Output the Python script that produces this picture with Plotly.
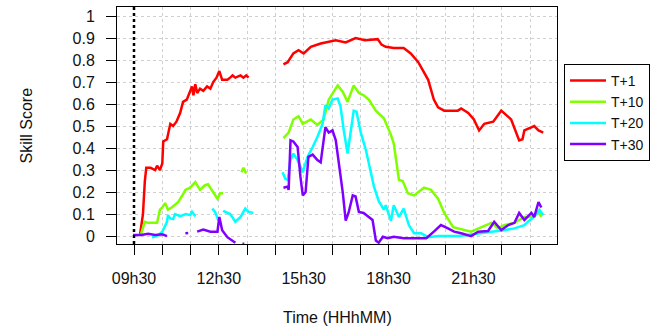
import plotly.graph_objects as go

# ---------------- data ----------------
series_names = ["T+1", "T+10", "T+20", "T+30"]
series_colors = ["#FF0000", "#80FF00", "#00FFFF", "#8000FF"]

t1_times = ["09:43", "09:49", "09:53", "09:56", "10:05", "10:15", "10:19", "10:25", "10:30", "10:32",
            "10:40", "10:47", "10:53", "11:00", "11:08", "11:14", "11:22", "11:29", "11:33", "11:36",
            "11:40", "11:44", "11:50", "11:57", "12:05", "12:12", "12:18", "12:25", "12:31", "12:37",
            "12:48", "12:54", "12:59", "13:05", "13:16", "13:22", "13:28", "13:33", None,
            "14:47", "14:56", "15:08", "15:19", "15:30", "15:45", "16:06", "16:38", "16:59", "17:20",
            "17:40", "18:07", "18:15", "18:24", "18:41", "19:02", "19:17", "19:33", "19:54", "20:06",
            "20:15", "20:28", "20:57", "21:04", "21:19", "21:31", "21:42", "21:53", "22:12", "22:29",
            "22:50", "23:07", "23:14", "23:18", "23:39", "23:44", "23:48", "23:58"]
t1_vals = [0.01, 0.10, 0.25, 0.31, 0.31, 0.30, 0.32, 0.30, 0.33, 0.43,
           0.44, 0.51, 0.50, 0.52, 0.56, 0.61, 0.62, 0.66, 0.68, 0.64,
           0.69, 0.65, 0.67, 0.66, 0.68, 0.67, 0.70, 0.72, 0.75, 0.71,
           0.71, 0.72, 0.73, 0.72, 0.73, 0.72, 0.73, 0.72, None,
           0.78, 0.79, 0.83, 0.845, 0.83, 0.86, 0.875, 0.89, 0.88, 0.90,
           0.89, 0.895, 0.87, 0.86, 0.855, 0.855, 0.83, 0.79, 0.71, 0.62,
           0.585, 0.57, 0.57, 0.58, 0.56, 0.53, 0.48, 0.51, 0.52, 0.57,
           0.53, 0.435, 0.44, 0.48, 0.50, 0.49, 0.48, 0.47]

t10_times = ["09:45", "09:53", "10:00", "10:19", "10:25", "10:30", "10:36", "10:42", "10:50", "11:04",
             "11:14", "11:19", "11:29", "11:40", "11:50", "12:00", "12:07", "12:18", "12:27", "12:33",
             "12:39", None, "13:18", "13:22", "13:28", None,
             "14:47", "14:58", "15:08", "15:19", "15:28", "15:45", "15:59", "16:12", "16:23", "16:33",
             "16:42", "16:53", "17:03", "17:16", "17:27", "17:37", "17:48", "18:03", "18:20", "18:35",
             "18:41", "18:52", "19:00", "19:11", "19:24", "19:45", "20:00", "20:15", "20:28", "20:47",
             "21:08", "21:25", "21:46", "22:08", "22:22", "22:35", "22:57", "23:18", "23:33", "23:48",
             "23:54"]
t10_vals = [0.01, 0.065, 0.06, 0.06, 0.12, 0.13, 0.15, 0.12, 0.13, 0.155,
            0.19, 0.21, 0.22, 0.245, 0.21, 0.23, 0.235, 0.20, 0.17, 0.195,
            0.195, None, 0.29, 0.31, 0.285, None,
            0.445, 0.47, 0.53, 0.545, 0.51, 0.53, 0.505, 0.53, 0.62, 0.655,
            0.685, 0.655, 0.61, 0.685, 0.65, 0.64, 0.62, 0.57, 0.535, 0.46,
            0.42, 0.255, 0.25, 0.195, 0.185, 0.22, 0.21, 0.17, 0.105, 0.04,
            0.027, 0.02, 0.04, 0.06, 0.036, 0.05, 0.06, 0.087, 0.087, 0.11,
            0.087]

t20_times = ["10:08", "10:19", "10:30", "10:40", "10:42", "10:47", "10:53", "10:57", "11:08", "11:20",
             "11:29", "11:33", "11:40", None, "12:16", "12:22", "12:29", None,
             "12:39", "12:54", "13:05", "13:16", "13:26", "13:33", "13:43", None,
             "14:45", "14:51", "14:56", "15:02", "15:08", "15:17", "15:28", "15:38", "15:49", "15:59",
             "16:10", "16:16", "16:23", "16:31", "16:42", "16:48", "16:55", "17:03", "17:10", "17:16",
             "17:22", "17:31", "17:42", "17:52", "17:59", "18:09", "18:20", "18:24", "18:35", "18:41",
             "18:45", "18:52", "19:02", "19:13", "19:24", "19:39", "19:54", "20:15", "21:00", "21:40",
             "22:08", "22:35", "22:57", "23:18", "23:28", "23:39", "23:50", "23:58"]
t20_vals = [-0.005, 0.0, 0.02, 0.065, 0.095, 0.08, 0.077, 0.10, 0.09, 0.10,
            0.095, 0.11, 0.09, None, 0.125, 0.11, 0.07, None,
            0.115, 0.10, 0.065, 0.087, 0.125, 0.11, 0.105, None,
            0.29, 0.26, 0.255, 0.345, 0.375, 0.345, 0.29, 0.36, 0.405, 0.45,
            0.51, 0.595, 0.58, 0.62, 0.625, 0.59, 0.48, 0.375, 0.48, 0.57,
            0.565, 0.47, 0.39, 0.30, 0.225, 0.16, 0.12, 0.14, 0.07, 0.14,
            0.12, 0.087, 0.125, 0.05, 0.013, 0.013, -0.005, 0.0, 0.0, 0.013,
            0.02, 0.027, 0.035, 0.05, 0.07, 0.087, 0.12, 0.095]

t30_times = ["09:28", "09:45", "10:00", "10:15", "10:30", "10:40", None,
             "11:19", "11:25", None,
             "11:44", "11:57", "12:12", "12:27", "12:31", "12:37", "12:48", "12:59", "13:05", None,
             "13:20", "13:24", None,
             "14:47", "14:56", "14:58", "15:02", "15:08", "15:17", "15:23", "15:28", "15:34", "15:40",
             "15:49", "15:59", "16:06", "16:12", "16:16", "16:23", "16:31", "16:38", "16:44", "16:53",
             "16:59", "17:05", "17:14", "17:20", "17:27", "17:37", "17:48", "17:56", "18:03", "18:09",
             "18:18", "18:28", "18:41", "19:02", "19:33", "19:50", "20:06", "20:21", "20:36", "20:49",
             "21:04", "21:25", "21:40", "22:01", "22:14", "22:29", "22:44", "22:57", "23:07", "23:18",
             "23:33", "23:39", "23:48", "23:54"]
t30_vals = [0.005, 0.005, 0.01, 0.005, 0.008, 0.0, None,
            0.013, 0.014, None,
            0.02, 0.03, 0.02, 0.02, 0.087, 0.027, -0.005, -0.02, -0.03, None,
            -0.035, -0.035, None,
            0.22, 0.225, 0.21, 0.435, 0.43, 0.405, 0.27, 0.185, 0.20, 0.36,
            0.37, 0.345, 0.335, 0.42, 0.495, 0.47, 0.48, 0.435, 0.345, 0.195,
            0.07, 0.105, 0.185, 0.18, 0.11, 0.105, 0.087, 0.073, -0.02, -0.03,
            -0.003, -0.01, -0.003, -0.01, -0.01, -0.01, 0.02, 0.05, 0.035, 0.02,
            0.013, 0.0, 0.02, 0.023, 0.065, 0.027, 0.05, 0.06, 0.105, 0.073,
            0.105, 0.087, 0.155, 0.13]

x_tick_hours = [9.5 + i for i in range(15)]
x_tick_text = ["09h30", "", "", "12h30", "", "", "15h30", "", "", "18h30", "", "", "21h30", "", ""]
y_tick_vals = [round(0.1 * i, 1) for i in range(11)]
y_tick_text = ["0", "0.1", "0.2", "0.3", "0.4", "0.5", "0.6", "0.7", "0.8", "0.9", "1"]
start_marker_hour = 9.5


def to_hours(t):
    if t is None:
        return None
    h, m = t.split(":")
    return int(h) + int(m) / 60.0


all_times = [t1_times, t10_times, t20_times, t30_times]
all_vals = [t1_vals, t10_vals, t20_vals, t30_vals]

FONT = "Liberation Sans, Arial, sans-serif"
fig = go.Figure()
for name, color, ts, vs in zip(series_names, series_colors, all_times, all_vals):
    fig.add_trace(go.Scatter(
        x=[to_hours(t) for t in ts], y=vs, mode="lines", name=name,
        line=dict(color=color, width=2.5), connectgaps=False,
    ))

fig.add_vline(x=start_marker_hour, line=dict(color="black", width=2.5, dash="dot"))

axis_common = dict(
    showline=True, linecolor="black", linewidth=1, mirror=True,
    ticks="outside", ticklen=10, tickcolor="black", tickwidth=1,
    showgrid=True, gridcolor="#cfcfcf", griddash="dot", gridwidth=1,
    zeroline=False, tickfont=dict(family=FONT, size=16, color="#111111"),
)
fig.update_xaxes(range=[8.899, 24.454], tickmode="array", tickvals=x_tick_hours,
                 ticktext=x_tick_text, ticklabelstandoff=10, **axis_common)
fig.update_yaxes(range=[-0.036, 1.041], tickmode="array", tickvals=y_tick_vals,
                 ticktext=y_tick_text, ticklabelstandoff=8, **axis_common)

fig.add_annotation(text="Skill Score", xref="paper", yref="paper", x=-0.2068, y=0.5,
                   textangle=-90, showarrow=False, xanchor="center", yanchor="middle",
                   font=dict(family=FONT, size=16, color="#111111"))
fig.add_annotation(text="Time (HHhMM)", xref="paper", yref="paper", x=0.5, y=-0.312,
                   showarrow=False, xanchor="center", yanchor="middle",
                   font=dict(family=FONT, size=16, color="#111111"))

fig.update_layout(
    width=662, height=329,
    margin=dict(l=117, r=105, t=7, b=85, pad=0),
    paper_bgcolor="white", plot_bgcolor="white",
    showlegend=True,
    legend=dict(x=1.016, y=0.76, xanchor="left", yanchor="top",
                bordercolor="black", borderwidth=1, bgcolor="white",
                font=dict(family=FONT, size=14, color="#111111"),
                tracegroupgap=0, itemwidth=36),
)

fig.write_html("out.html")
